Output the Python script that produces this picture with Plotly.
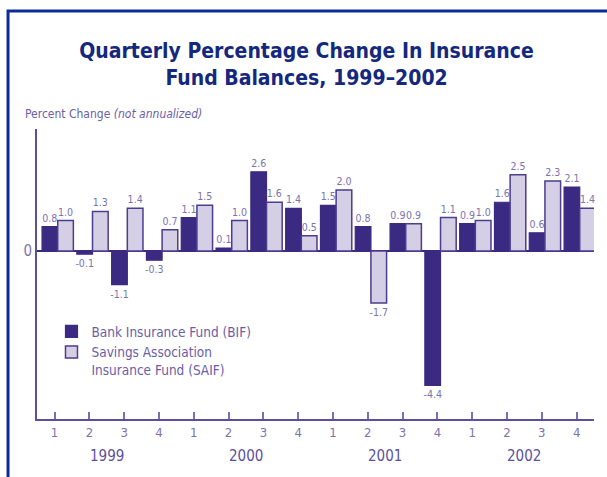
import plotly.graph_objects as go

# quarters 1999-2002
quarters = ["1", "2", "3", "4"] * 4
years = ["1999", "2000", "2001", "2002"]

# percent change, not annualized
bif = [0.8, -0.1, -1.1, -0.3, 1.1, 0.1, 2.6, 1.4, 1.5, 0.8, 0.9, -4.4, 0.9, 1.6, 0.6, 2.1]
saif = [1.0, 1.3, 1.4, 0.7, 1.5, 1.0, 1.6, 0.5, 2.0, -1.7, 0.9, 1.1, 1.0, 2.5, 2.3, 1.4]

NARROW = "Liberation Sans Narrow, DejaVu Sans Condensed, sans-serif"
LABEL = "#7b72b0"
AXIS = "#5b4fa0"

x = list(range(len(quarters)))

fig = go.Figure()
fig.add_trace(go.Bar(
    x=x, y=bif, name="Bank Insurance Fund (BIF)",
    marker=dict(color="#3b2a82", line=dict(color="#3b2a82", width=1.2)),
    text=bif, texttemplate="%{y:.1f}", textposition="outside", constraintext="none",
    textfont=dict(family=NARROW, size=10.5, color=LABEL),
    cliponaxis=False,
))
fig.add_trace(go.Bar(
    x=x, y=saif, name="Savings Association<br>Insurance Fund (SAIF)",
    marker=dict(color="#d5cfe5", line=dict(color="#4b3d8f", width=1.5)),
    text=saif, texttemplate="%{y:.1f}", textposition="outside", constraintext="none",
    textfont=dict(family=NARROW, size=10.5, color=LABEL),
    cliponaxis=False,
))

# year labels under each group of four quarters
for i, yr in enumerate(years):
    fig.add_annotation(x=i * 4 + 1.5 - 0.09, y=0, xref="x", yref="paper",
                       text=yr, showarrow=False, yanchor="middle", yshift=-37,
                       font=dict(family=NARROW, size=15, color=AXIS))

fig.add_annotation(x=-0.026, y=1.05, xref="paper", yref="paper",
                   xanchor="left", yanchor="middle", showarrow=False,
                   text="Percent Change <i>(not annualized)</i>",
                   font=dict(family=NARROW, size=12, color="#6a5ea8"))

# outer frame (left and top edges)
fig.add_shape(type="path", xref="paper", yref="paper",
              path="M -0.052,-0.25 L -0.052,1.407 L 1.05,1.407",
              line=dict(color="#0b2a9c", width=3))

fig.update_layout(
    width=607, height=477,
    margin=dict(l=37, r=13, t=129, b=58),
    paper_bgcolor="white", plot_bgcolor="white",
    barmode="group", bargap=0.1, bargroupgap=0,
    title=dict(text="<b>Quarterly Percentage Change In Insurance<br>Fund Balances, 1999–2002</b>",
               x=0.505, xanchor="center", y=0.878, yanchor="middle",
               font=dict(family="DejaVu Sans Condensed, Liberation Sans Narrow, sans-serif",
                         size=21, color="#14287e")),
    legend=dict(x=0.026, y=0.355, xanchor="left", yanchor="top", valign="top",
                bgcolor="rgba(0,0,0,0)", traceorder="normal",
                font=dict(family=NARROW, size=13.5, color="#6a5ea8")),
    showlegend=True,
)
fig.update_xaxes(range=[-0.595, 15.41], tickvals=[i - 0.09 for i in x], ticktext=quarters,
                 showline=True, linecolor=AXIS, linewidth=2,
                 ticks="inside", ticklen=7, tickwidth=1.5, tickcolor="#7a6fb0",
                 tickfont=dict(family=NARROW, size=13, color=LABEL),
                 showgrid=False, zeroline=False, fixedrange=True)
fig.update_yaxes(range=[-5.5, 4.0], tickvals=[0], ticktext=["0"],
                 showline=True, linecolor=AXIS, linewidth=2, ticks="",
                 tickfont=dict(family=NARROW, size=15, color=LABEL),
                 showgrid=False, zeroline=True, zerolinecolor="#3b2a82", zerolinewidth=2)

fig.write_html("out.html", config={"displayModeBar": False},
               post_script="document.body.style.margin='0';")
